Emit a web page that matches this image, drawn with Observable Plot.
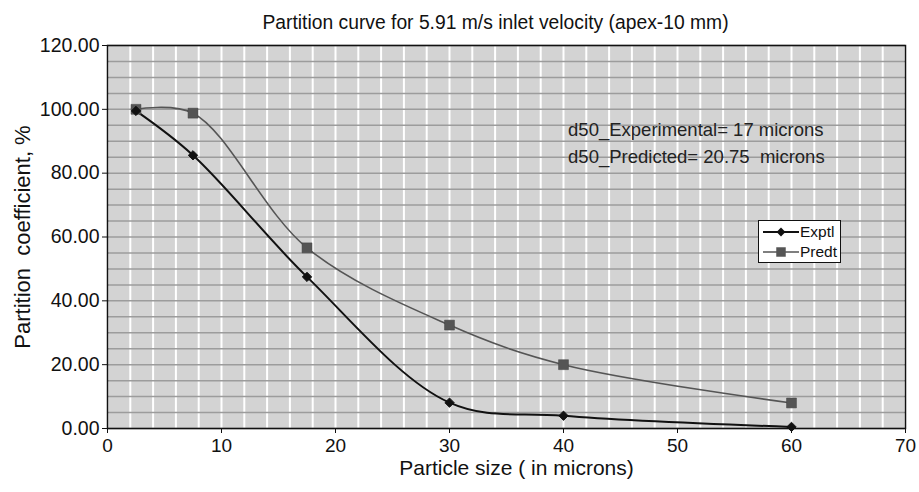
<!DOCTYPE html>
<html>
<head>
<meta charset="utf-8">
<script src="https://cdn.jsdelivr.net/npm/d3@7"></script>
<script src="https://cdn.jsdelivr.net/npm/@observablehq/plot@0.6"></script>
<style>
  html, body { margin: 0; padding: 0; background: #fff; }
  #wrap { position: relative; width: 919px; height: 492px; font-family: "Liberation Sans", Arial, sans-serif; }
  #legend { position: absolute; left: 758px; top: 220px; width: 81px; height: 41px; background: #fff; border: 1px solid #111; }
</style>
</head>
<body>
<div id="wrap"></div>
<script>
// ---- data ----
const sizes = [2.5, 7.5, 17.5, 30, 40, 60];
const exptl = [99.5, 85.6, 47.5, 8.1, 4.0, 0.5];
const predt = [100.0, 98.8, 56.6, 32.4, 20.0, 8.0];
const seriesNames = ["Exptl", "Predt"];
const xTicks = [0, 10, 20, 30, 40, 50, 60, 70];
const yTicks = [0, 20, 40, 60, 80, 100, 120];
const xGrid = [0, 2, 4, 6, 8, 10, 12, 14, 16, 18, 20, 22, 24, 26, 28, 30, 32, 34, 36, 38, 40, 42, 44, 46, 48, 50, 52, 54, 56, 58, 60, 62, 64, 66, 68, 70];
const yGrid = [0, 5, 10, 15, 20, 25, 30, 35, 40, 45, 50, 55, 60, 65, 70, 75, 80, 85, 90, 95, 100, 105, 110, 115, 120];
const titleText = "Partition curve for 5.91 m/s inlet velocity (apex-10 mm)";
const xLabel = "Particle size ( in microns)";
const yLabel = "Partition  coefficient, %";
const notes = ["d50_Experimental= 17 microns", "d50_Predicted= 20.75  microns"];
const noteX = [40.4, 40.4];
const noteY = [93.5, 85.0];

const rowsE = sizes.map((s, i) => ({x: s, y: exptl[i]}));
const rowsP = sizes.map((s, i) => ({x: s, y: predt[i]}));
const noteRows = notes.map((t, i) => ({t, x: noteX[i], y: noteY[i]}));

const chart = Plot.plot({
  width: 919,
  height: 492,
  marginLeft: 107,
  marginRight: 14,
  marginTop: 45,
  marginBottom: 64,
  style: {fontFamily: "Liberation Sans, Arial, sans-serif", fontSize: "17px", color: "#111", background: "#fff"},
  x: {domain: [0, 70]},
  y: {domain: [0, 120]},
  marks: [
    Plot.frame({fill: "#d3d3d3", stroke: null}),
    Plot.ruleX(xGrid, {x: d => d, stroke: "#ffffff", strokeWidth: 2}),
    Plot.ruleY(yGrid, {y: d => d, stroke: "#9c9c9c", strokeWidth: 1.5}),
    Plot.frame({stroke: "#111", strokeWidth: 1.5}),
    Plot.line(rowsP, {x: "x", y: "y", curve: "catmull-rom", stroke: "#555", strokeWidth: 1.6}),
    Plot.line(rowsE, {x: "x", y: "y", curve: "catmull-rom", stroke: "#111", strokeWidth: 2}),
    Plot.dot(rowsP, {x: "x", y: "y", symbol: "square", r: 5.6, fill: "#555", stroke: "#444", strokeWidth: 0.5}),
    Plot.dot(rowsE, {x: "x", y: "y", symbol: "diamond2", r: 4.2, fill: "#111", stroke: "#111", strokeWidth: 1}),
    Plot.text(noteRows, {x: "x", y: "y", text: "t", textAnchor: "start", fontSize: 18.5, fill: "#222"}),
    Plot.axisX({ticks: xTicks, tickSize: 5, tickPadding: 5, fontSize: 19, label: null, tickFormat: d3.format("d")}),
    Plot.axisY({ticks: yTicks, tickSize: 5, tickPadding: 3, fontSize: 19.5, label: null, tickFormat: d3.format(".2f")}),
    Plot.text([titleText], {frameAnchor: "top", dy: -30, dx: -11, fontSize: 19.3, fill: "#111"}),
    Plot.text([xLabel], {frameAnchor: "bottom", dy: 46, dx: 10, fontSize: 21, fill: "#111"}),
    Plot.text([yLabel], {frameAnchor: "left", textAnchor: "middle", rotate: -90, dx: -85, fontSize: 22, fill: "#111"})
  ]
});
const wrap = document.getElementById("wrap");
wrap.appendChild(chart);

// legend (drawn from the series names)
const legend = document.createElement("div");
legend.id = "legend";
const colors = ["#111", "#555"];
seriesNames.forEach((name, i) => {
  const row = document.createElement("div");
  row.style.cssText = "display:flex;align-items:center;height:20px;margin-top:" + (i === 0 ? "1px" : "0") + ";";
  const sw = d3.create("svg").attr("width", 41).attr("height", 20);
  sw.append("line").attr("x1", 4).attr("x2", 40).attr("y1", 10).attr("y2", 10).attr("stroke", colors[i]).attr("stroke-width", i === 0 ? 2 : 1.6);
  sw.append("path").attr("transform", "translate(22,10)")
    .attr("d", d3.symbol(i === 0 ? d3.symbolDiamond2 : d3.symbolSquare, i === 0 ? 50 : 90)())
    .attr("fill", colors[i]);
  row.appendChild(sw.node());
  const t = document.createElement("span");
  t.textContent = name;
  t.style.cssText = "font-size:15.5px;color:#111;";
  row.appendChild(t);
  legend.appendChild(row);
});
wrap.appendChild(legend);
</script>
</body>
</html>
